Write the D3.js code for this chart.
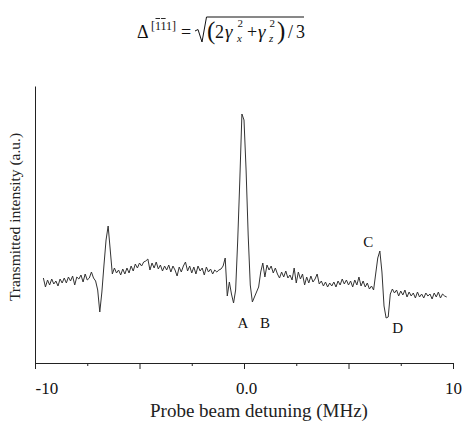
<!DOCTYPE html>
<html>
<head>
<meta charset="utf-8">
<script src="https://cdn.jsdelivr.net/npm/d3@7"></script>
<style>
  body { margin: 0; background: #fff; }
  svg, svg text { font-family: "Liberation Serif", "Times New Roman", serif; }
</style>
</head>
<body>
<svg width="462" height="422"></svg>
<script>
// detuning grid (MHz): first sample and spacing
const detuningStart = -9.6, detuningStep = 0.1;

// transmitted intensity (a.u.), one value per sample
const intensity = [
  0.85,0.76,0.83,0.78,0.84,0.79,0.82,0.77,0.84,0.80,0.85,0.80,0.86,0.82,0.87,0.78,0.86,0.84,0.88,0.81,
  0.89,0.83,0.85,0.91,0.85,0.82,0.73,0.51,0.71,0.98,1.23,1.37,1.13,0.89,0.95,0.90,
  0.93,0.88,0.94,0.89,0.95,0.90,0.97,0.92,0.99,0.95,1.00,0.97,1.01,1.02,1.04,0.93,1.00,0.95,1.01,0.94,
  0.98,0.92,0.97,0.93,0.98,0.91,0.97,0.93,0.87,0.96,0.91,0.97,1.01,0.92,0.97,0.90,0.96,0.89,0.97,0.92,
  0.95,0.88,0.96,0.91,0.94,0.89,0.93,0.91,0.93,0.94,0.97,
  1.05,0.67,0.81,0.69,0.60,0.73,1.23,1.83,2.49,2.43,1.93,1.28,0.78,0.61,0.66,0.71,0.76,0.91,1.00,0.86,
  0.98,0.93,
  0.97,0.90,0.95,0.89,0.85,0.91,0.86,0.92,0.85,0.88,0.83,0.95,0.80,0.91,0.84,0.89,0.78,0.86,0.80,0.87,
  0.81,0.84,0.89,0.79,0.82,0.77,0.81,0.76,0.80,0.77,0.81,0.76,0.82,0.78,0.84,0.79,0.83,0.78,0.82,0.76,
  0.83,0.78,0.86,0.77,0.82,0.76,0.80,0.74,0.77,0.73,
  0.89,1.05,1.12,0.91,0.57,0.45,0.46,0.69,0.74,
  0.70,0.73,0.67,0.72,0.68,0.73,0.66,0.71,0.67,0.70,0.65,0.71,0.66,0.69,0.65,0.70,0.67,0.69,0.64,0.70,
  0.66,0.71,0.65,0.69,0.67,0.66
];

const majorTicks = [-10, -5, 0, 5, 10];
const minorTicks = [-7.5, -2.5, 2.5, 7.5];
const tickLabels = {"-10": "-10", "0": "0.0", "10": "10"};

// peak markers: letter, detuning, intensity where the letter sits
const peakNames = ["A", "B", "C", "D"];
const peakDetuning = [-0.05, 1.0, 5.95, 7.35];
const peakLevel = [0.35, 0.35, 1.16, 0.30];

let svg = d3.select("svg");
const margin = {left: 35, right: 9, top: 86, bottom: 59};
const width = 462, height = 422;

let x = d3.scaleLinear().domain([-10, 10]).range([margin.left, width - margin.right]);
let y = d3.scaleLinear().domain([0, 2.77]).range([height - margin.bottom, margin.top]);

let trace = intensity.map(function (v, i) {
  return {f: detuningStart + i * detuningStep, v: v};
});

// axes
svg.append("g")
  .attr("transform", "translate(0," + y(0) + ")")
  .call(d3.axisBottom(x).tickValues(minorTicks).tickSize(3).tickSizeOuter(0).tickFormat(""))
  .call(g => g.select(".domain").remove());

let xAxis = svg.append("g")
  .attr("transform", "translate(0," + y(0) + ")")
  .call(d3.axisBottom(x).tickValues(majorTicks).tickSize(6).tickSizeOuter(0)
    .tickFormat(d => tickLabels[d] || ""))
  .attr("font-family", null)
  .attr("font-size", null);

xAxis.selectAll("text")
  .attr("font-size", 17)
  .attr("fill", "#111")
  .attr("y", 19)
  .attr("dy", "0.71em")
  .attr("text-anchor", d => d === -10 ? "start" : "middle")
  .attr("dx", d => d === 0 ? 2 : 0);

svg.append("g")
  .attr("transform", "translate(" + x(-10) + ",0)")
  .call(d3.axisLeft(y).tickValues([]).tickSizeOuter(0));

svg.selectAll(".domain, .tick line").attr("stroke", "#222");

// trace
svg.append("path")
  .datum(trace)
  .attr("fill", "none")
  .attr("stroke", "#333")
  .attr("stroke-width", 1)
  .attr("stroke-linejoin", "round")
  .attr("d", d3.line().x(d => x(d.f)).y(d => y(d.v)));

// peak letters
svg.selectAll(".peak")
  .data(peakNames)
  .enter().append("text")
  .attr("class", "peak")
  .attr("x", (d, i) => x(peakDetuning[i]))
  .attr("y", (d, i) => y(peakLevel[i]))
  .attr("text-anchor", "middle")
  .attr("font-size", 15)
  .attr("fill", "#111")
  .text(d => d);

// axis titles
svg.append("text")
  .attr("x", 259).attr("y", 417)
  .attr("text-anchor", "middle")
  .attr("font-size", 19)
  .attr("fill", "#222")
  .text("Probe beam detuning (MHz)");

svg.append("text")
  .attr("transform", "translate(20,217) rotate(-90)")
  .attr("text-anchor", "middle")
  .attr("font-size", 15.5)
  .attr("fill", "#222")
  .text("Transmitted intensity (a.u.)");

// formula above the plot
let formula = svg.append("g").attr("fill", "#111");
const pieces = [
  {t: "Δ", x: 137, y: 38, s: 18},
  {t: "=", x: 181, y: 38, s: 18},
  {t: "(", x: 207, y: 39, s: 25},
  {t: "2", x: 215, y: 38, s: 18},
  {t: "γ", x: 225, y: 38, s: 19, i: true},
  {t: "2", x: 237.5, y: 27, s: 11},
  {t: "x", x: 237, y: 42, s: 11, i: true},
  {t: "+", x: 247, y: 38, s: 18},
  {t: "γ", x: 258, y: 38, s: 19, i: true},
  {t: "2", x: 269.5, y: 27, s: 11},
  {t: "z", x: 269, y: 42, s: 11, i: true},
  {t: ")", x: 277, y: 39, s: 25},
  {t: "/", x: 288, y: 38, s: 18},
  {t: "3", x: 296, y: 38, s: 18}
];
formula.selectAll("text.p")
  .data(pieces)
  .enter().append("text")
  .attr("class", "p")
  .attr("x", d => d.x).attr("y", d => d.y)
  .attr("font-size", d => d.s)
  .attr("font-style", d => d.i ? "italic" : null)
  .text(d => d.t);

let miller = formula.append("text")
  .attr("x", 151).attr("y", 30)
  .attr("font-size", 12)
  .text("[111]");
[1, 2].forEach(function (k) {
  let b = miller.node().getExtentOfChar(k);
  formula.append("line")
    .attr("x1", b.x + 0.5).attr("x2", b.x + b.width - 0.5)
    .attr("y1", 18.5).attr("y2", 18.5)
    .attr("stroke", "#111").attr("stroke-width", 0.9);
});

formula.append("path")
  .attr("d", "M195,31 L198,29.5 L202,42 L206.5,17 L304,17")
  .attr("fill", "none")
  .attr("stroke", "#111")
  .attr("stroke-width", 1);
</script>
</body>
</html>
